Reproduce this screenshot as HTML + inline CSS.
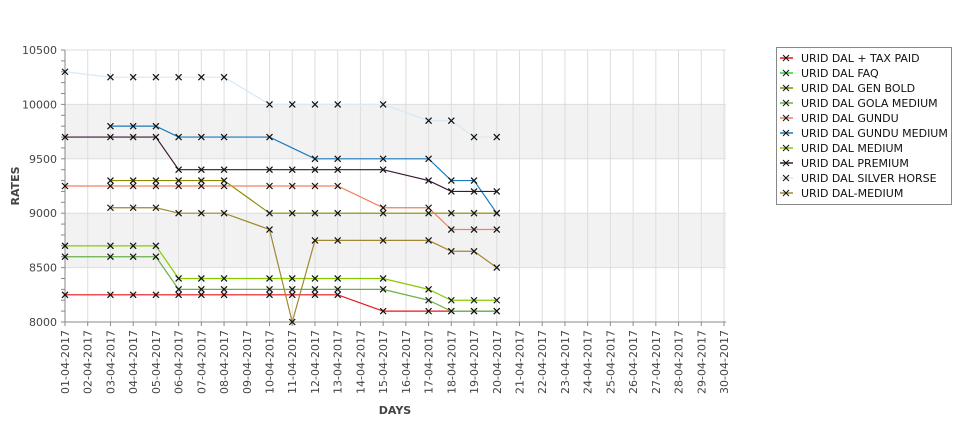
<!DOCTYPE html>
<html><head><meta charset="utf-8"><style>
body{margin:0;background:#fff;font-family:"DejaVu Sans","Liberation Sans",sans-serif}
svg text{font-family:"DejaVu Sans","Liberation Sans",sans-serif}
</style></head><body>
<svg id="c" width="975" height="429" xmlns="http://www.w3.org/2000/svg"></svg>
<script>
const days=[1,2,3,4,5,6,7,8,9,10,11,12,13,14,15,16,17,18,19,20,21,22,23,24,25,26,27,28,29,30];
const obsDays=[1,3,4,5,6,7,8,10,11,12,13,15,17,18,19,20];
const yTicks=[8000,8500,9000,9500,10000,10500];
const seriesNames=["URID DAL + TAX PAID","URID DAL FAQ","URID DAL GEN BOLD","URID DAL GOLA MEDIUM","URID DAL GUNDU","URID DAL GUNDU MEDIUM","URID DAL MEDIUM","URID DAL PREMIUM","URID DAL SILVER HORSE","URID DAL-MEDIUM"];
const seriesColors=["#e8141c","#22dd22","#8b8b00","#6ab04c","#f08060","#1a78b8","#88cc00","#3a1838","#d8e8f4","#a08830"];
const taxPaid=[8250,8250,8250,8250,8250,8250,8250,8250,8250,8250,8250,8100,8100,8100,8100,8100];
const faq=[null,null,null,null,null,null,null,null,null,null,null,null,null,null,null,null];
const genBold=[null,9300,9300,9300,9300,9300,9300,9000,9000,9000,9000,9000,9000,9000,9000,9000];
const golaMedium=[8600,8600,8600,8600,8300,8300,8300,8300,8300,8300,8300,8300,8200,8100,8100,8100];
const gundu=[9250,9250,9250,9250,9250,9250,9250,9250,9250,9250,9250,9050,9050,8850,8850,8850];
const gunduMedium=[null,9800,9800,9800,9700,9700,9700,9700,null,9500,9500,9500,9500,9300,9300,9000];
const medium=[8700,8700,8700,8700,8400,8400,8400,8400,8400,8400,8400,8400,8300,8200,8200,8200];
const premium=[9700,9700,9700,9700,9400,9400,9400,9400,9400,9400,9400,9400,9300,9200,9200,9200];
const silverHorse=[10300,10250,10250,10250,10250,10250,10250,10000,10000,10000,10000,10000,9850,9850,9700,9700];
const dalMedium=[null,9050,9050,9050,9000,9000,9000,8850,8000,8750,8750,8750,8750,8650,8650,8500];
const allSeries=[taxPaid,faq,genBold,golaMedium,gundu,gunduMedium,medium,premium,silverHorse,dalMedium];

const X0=65,X1=726,Y0=322,Y1=50;
const x=d=>X0+(d-1)*(X1-X0-2)/29;
const y=v=>Y0-(v-8000)*(Y0-Y1)/2500;
const svg=document.getElementById('c');const NS="http://www.w3.org/2000/svg";
function mk(t,a,p){const e=document.createElementNS(NS,t);for(const k in a)e.setAttribute(k,a[k]);(p||svg).appendChild(e);return e;}
for(let i=0;i<yTicks.length-1;i++){if(i%2===1){const b=mk('rect',{x:X0,y:y(yTicks[i+1]),width:X1-X0,height:y(yTicks[i])-y(yTicks[i+1]),fill:'#f2f2f2'});

}}
days.forEach(d=>{mk('line',{x1:x(d),x2:x(d),y1:Y1,y2:Y0,stroke:'#dddddd','stroke-width':1});});
yTicks.forEach(v=>{mk('line',{x1:X0,x2:X1,y1:y(v),y2:y(v),stroke:'#dddddd'});
const t=mk('text',{x:X0-8,y:y(v)+4,'text-anchor':'end','font-size':11,fill:'#444'});t.textContent=v;

});
for(let v=8000;v<=10500;v+=100){mk('line',{x1:X0-4,x2:X0,y1:y(v),y2:y(v),stroke:'#888'});}
mk('line',{x1:X0,x2:X0,y1:Y1,y2:Y0,stroke:'#888'});
mk('line',{x1:X0,x2:X1,y1:Y0,y2:Y0,stroke:'#888'});
days.forEach(d=>{mk('line',{x1:x(d),x2:x(d),y1:Y0,y2:Y0+4,stroke:'#888'});
const lab=(d<10?'0':'')+d+'-04-2017';
const t=mk('text',{x:0,y:0,'font-size':11,fill:'#444','text-anchor':'end',transform:`translate(${x(d)+4},${Y0+8}) rotate(-90)`});t.textContent=lab;

});
let t=mk('text',{x:395,y:414,'font-size':11,'font-weight':'bold',fill:'#444','text-anchor':'middle'});t.textContent='DAYS';


t=mk('text',{x:0,y:0,'font-size':11,'font-weight':'bold',fill:'#444','text-anchor':'middle',transform:'translate(19,186) rotate(-90)'});t.textContent='RATES';


function cross(cx,cy,g){mk('path',{d:`M${cx-3} ${cy-3}L${cx+3} ${cy+3}M${cx+3} ${cy-3}L${cx-3} ${cy+3}`,stroke:'#111','stroke-width':1.2},g);}
allSeries.forEach((s,i)=>{const g=mk('g',{});


let pts=[];s.forEach((v,j)=>{if(v!=null)pts.push([x(obsDays[j]),y(v)]);});
if(pts.length)mk('polyline',{points:pts.map(p=>p.join(',')).join(' '),fill:'none',stroke:seriesColors[i],'stroke-width':1.2},g);
pts.forEach(p=>cross(p[0],p[1],g));});
const lg=mk('g',{});


mk('rect',{x:776.5,y:47.5,width:175,height:157,fill:'#fff',stroke:'#888'},lg);
seriesNames.forEach((n,i)=>{const e=mk('g',{},lg);


const cy=58+i*15;mk('line',{x1:780,x2:793,y1:cy,y2:cy,stroke:seriesColors[i],'stroke-width':1.5},e);
mk('path',{d:`M${783} ${cy-3}L${789} ${cy+3}M${789} ${cy-3}L${783} ${cy+3}`,stroke:'#111','stroke-width':1},e);
const tt=mk('text',{x:801,y:cy+4,'font-size':11,fill:'#111'},e);tt.textContent=n;});
</script>
</body></html>
